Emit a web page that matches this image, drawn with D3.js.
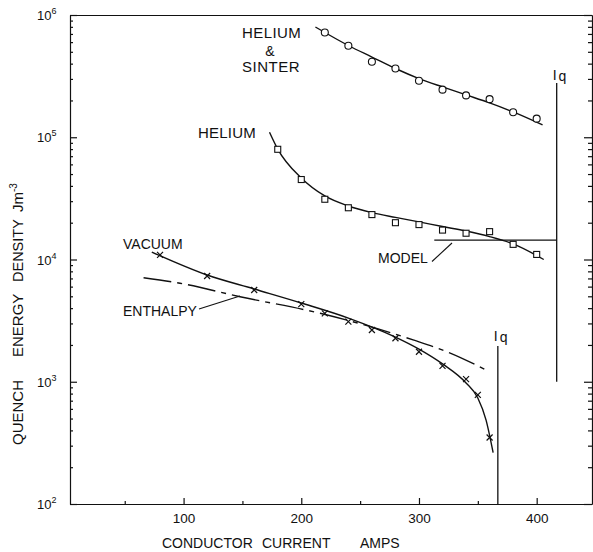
<!DOCTYPE html>
<html>
<head>
<meta charset="utf-8">
<script src="https://cdn.jsdelivr.net/npm/d3@7"></script>
<style>
  body { margin: 0; background: #fff; }
  text { font-family: "Liberation Sans", Arial, sans-serif; fill: #111; }
  .axis path, .axis line { stroke: #111; stroke-width: 1.2; }
</style>
</head>
<body>
<div id="chart"></div>
<script>
// helium + sinter (circles) and its fitted curve
var sinterAmps = [220, 240, 260, 280, 300, 320, 340, 360, 380, 400];
var sinterQ = [7.2e5, 5.6e5, 4.15e5, 3.65e5, 2.9e5, 2.45e5, 2.2e5, 2.05e5, 1.6e5, 1.42e5];
var sinterFitAmps = [212, 240, 260, 280, 300, 320, 340, 360, 380, 405];
var sinterFitQ = [7.98e5, 5.63e5, 4.53e5, 3.65e5, 3.02e5, 2.58e5, 2.22e5, 1.91e5, 1.61e5, 1.26e5];

// helium (squares)
var heliumAmps = [180, 200, 220, 240, 260, 280, 300, 320, 340, 360, 380, 400];
var heliumQ = [7.97e4, 4.51e4, 3.11e4, 2.65e4, 2.33e4, 2.0e4, 1.93e4, 1.74e4, 1.64e4, 1.69e4, 1.33e4, 1.1e4];
var heliumFitAmps = [173, 180, 200, 220, 240, 260, 280, 300, 320, 340, 360, 380, 406];
var heliumFitQ = [1.1e5, 8.0e4, 4.64e4, 3.31e4, 2.74e4, 2.42e4, 2.21e4, 2.03e4, 1.86e4, 1.71e4, 1.54e4, 1.34e4, 1.0e4];

// vacuum (crosses)
var vacuumAmps = [80, 120, 160, 200, 220, 240, 260, 280, 300, 320, 340, 350, 360];
var vacuumQ = [1.09e4, 7.33e3, 5.63e3, 4.32e3, 3.63e3, 3.1e3, 2.65e3, 2.27e3, 1.76e3, 1.35e3, 1.05e3, 780, 350];
var vacuumFitAmps = [73, 120, 160, 200, 240, 280, 300, 320, 340, 350, 357, 363];
var vacuumFitQ = [1.15e4, 7.47e3, 5.74e3, 4.41e3, 3.32e3, 2.32e3, 1.85e3, 1.4e3, 977, 736, 486, 263];

// enthalpy (dash-dot)
var enthalpyAmps = [66, 97, 148, 216, 295, 325, 359];
var enthalpyQ = [7.1e3, 6.39e3, 4.96e3, 3.63e3, 2.2e3, 1.74e3, 1.22e3];

// model level and the two Iq lines
var modelAmps = [313, 417];
var modelQ = 1.44e4;
var iqHeliumAmps = 417, iqHeliumQ = [1e3, 2.78e5];
var iqVacuumAmps = 367, iqVacuumQ = [1e2, 1.96e3];

var xTicks = [100, 200, 300, 400];
var xMinor = [50, 150, 250, 350];
var decades = [1e2, 1e3, 1e4, 1e5, 1e6];

var W = 593, H = 552;
var svg = d3.select("#chart").append("svg").attr("width", W).attr("height", H);

var x = d3.scaleLinear().domain([3.5, 447]).range([70, 592]);
var y = d3.scaleLog().domain([1e2, 1e6]).range([504, 15]);

var minors = [];
decades.slice(0, 4).forEach(function(d) {
    for (var k = 2; k <= 9; k++) minors.push(d * k);
});

// axes
svg.append("g").attr("class", "axis").attr("transform", "translate(70,0)")
    .call(d3.axisLeft(y).tickValues(decades).tickSize(-7).tickSizeOuter(0).tickFormat(""));
svg.append("g").attr("class", "axis").attr("transform", "translate(70,0)")
    .call(d3.axisLeft(y).tickValues(minors).tickSize(-3).tickFormat(""))
    .select(".domain").remove();
svg.append("g").attr("class", "axis").attr("transform", "translate(592,0)")
    .call(d3.axisRight(y).tickValues(decades).tickSize(-8).tickSizeOuter(0).tickFormat(""));
svg.append("g").attr("class", "axis").attr("transform", "translate(592,0)")
    .call(d3.axisRight(y).tickValues(minors).tickSize(-4).tickFormat(""))
    .select(".domain").remove();
var xAx = svg.append("g").attr("class", "axis").attr("transform", "translate(0,504)")
    .call(d3.axisBottom(x).tickValues(xTicks).tickSize(-6).tickSizeOuter(0).tickPadding(9));
xAx.selectAll("text").style("font-size", "13.5px").style("font-family", "Liberation Sans");
svg.append("g").attr("class", "axis").attr("transform", "translate(0,504)")
    .call(d3.axisBottom(x).tickValues(xMinor).tickSize(-3).tickFormat(""))
    .select(".domain").remove();
svg.append("g").attr("class", "axis").attr("transform", "translate(0,15)")
    .call(d3.axisTop(x).tickValues([]).tickSizeOuter(0));

// decade labels 10^n
decades.forEach(function(d) {
    var t = svg.append("text").attr("x", 37).attr("y", y(d) + 5).style("font-size", "13px");
    t.append("tspan").text("10");
    t.append("tspan").attr("dy", -6).style("font-size", "9px").text(Math.round(Math.log10(d)));
});

// plain text helper
function word(txt, px, py, fs, rot) {
    var t = svg.append("text").attr("x", px).attr("y", py)
        .style("font-size", fs + "px").text(txt);
    if (rot) t.attr("transform", "rotate(-90," + px + "," + py + ")");
    return t;
}

// axis titles
word("CONDUCTOR", 162, 548, 14);
word("CURRENT", 262, 548, 14);
word("AMPS", 360, 548, 14);
word("QUENCH", 23, 445, 15, true);
word("ENERGY", 23, 357, 15, true);
word("DENSITY", 23, 282, 14.5, true);
var jm = svg.append("text").attr("transform", "translate(23,212) rotate(-90)").style("font-size", "15px");
jm.append("tspan").text("Jm");
jm.append("tspan").attr("dy", -6).style("font-size", "10px").text("-3");

// curves
var line = d3.line().x(function(d) { return x(d[0]); }).y(function(d) { return y(d[1]); })
    .curve(d3.curveMonotoneX);
function curve(a, q, dash) {
    svg.append("path").datum(d3.zip(a, q)).attr("d", line)
        .attr("fill", "none").attr("stroke", "#111").attr("stroke-width", 1.4)
        .attr("stroke-dasharray", dash || null);
}
curve(sinterFitAmps, sinterFitQ);
curve(heliumFitAmps, heliumFitQ);
curve(vacuumFitAmps, vacuumFitQ);
curve(enthalpyAmps, enthalpyQ, "28,6,5,6");

// model and Iq lines
svg.append("line").attr("x1", x(modelAmps[0])).attr("x2", x(modelAmps[1]))
    .attr("y1", y(modelQ)).attr("y2", y(modelQ)).attr("stroke", "#111").attr("stroke-width", 1.4);
svg.append("line").attr("x1", x(iqHeliumAmps)).attr("x2", x(iqHeliumAmps))
    .attr("y1", y(iqHeliumQ[0])).attr("y2", y(iqHeliumQ[1])).attr("stroke", "#111").attr("stroke-width", 1.3);
svg.append("line").attr("x1", x(iqVacuumAmps)).attr("x2", x(iqVacuumAmps))
    .attr("y1", y(iqVacuumQ[0])).attr("y2", y(iqVacuumQ[1])).attr("stroke", "#111").attr("stroke-width", 1.3);

// markers
svg.append("g").selectAll("circle").data(d3.zip(sinterAmps, sinterQ)).enter().append("circle")
    .attr("cx", function(d) { return x(d[0]); }).attr("cy", function(d) { return y(d[1]); })
    .attr("r", 3.5).attr("fill", "#fff").attr("stroke", "#111").attr("stroke-width", 1.1);
svg.append("g").selectAll("rect").data(d3.zip(heliumAmps, heliumQ)).enter().append("rect")
    .attr("x", function(d) { return x(d[0]) - 3; }).attr("y", function(d) { return y(d[1]) - 3; })
    .attr("width", 6).attr("height", 6).attr("fill", "#fff").attr("stroke", "#111").attr("stroke-width", 1.1);
svg.append("g").selectAll("path").data(d3.zip(vacuumAmps, vacuumQ)).enter().append("path")
    .attr("transform", function(d) { return "translate(" + x(d[0]) + "," + y(d[1]) + ")"; })
    .attr("d", "M-3,-3L3,3M-3,3L3,-3").attr("stroke", "#111").attr("stroke-width", 1.2);

// labels
word("HELIUM", 242, 38, 15).style("letter-spacing", "0.4px");
svg.append("text").attr("x", 270).attr("y", 56).attr("text-anchor", "middle").style("font-size", "14px").text("&");
word("SINTER", 242, 72, 15).style("letter-spacing", "0.5px");
word("HELIUM", 198, 138, 15).style("letter-spacing", "0.2px");
word("MODEL", 378, 263, 14);
word("VACUUM", 123, 249, 14);
word("ENTHALPY", 123, 316, 14);

svg.append("line").attr("x1", 432).attr("y1", 261.5).attr("x2", 452).attr("y2", 243)
    .attr("stroke", "#111").attr("stroke-width", 1.1);
svg.append("line").attr("x1", 199).attr("y1", 309).attr("x2", 240).attr("y2", 296)
    .attr("stroke", "#111").attr("stroke-width", 1.1);

function iqLabel(px, py) {
    var t = svg.append("text").attr("x", px).attr("y", py).style("font-size", "14px");
    t.append("tspan").text("I");
    t.append("tspan").attr("dx", 2).attr("dy", 1).text("q");
}
iqLabel(x(iqHeliumAmps) - 4, 80);
iqLabel(x(iqVacuumAmps) - 4, 341);
</script>
</body>
</html>
